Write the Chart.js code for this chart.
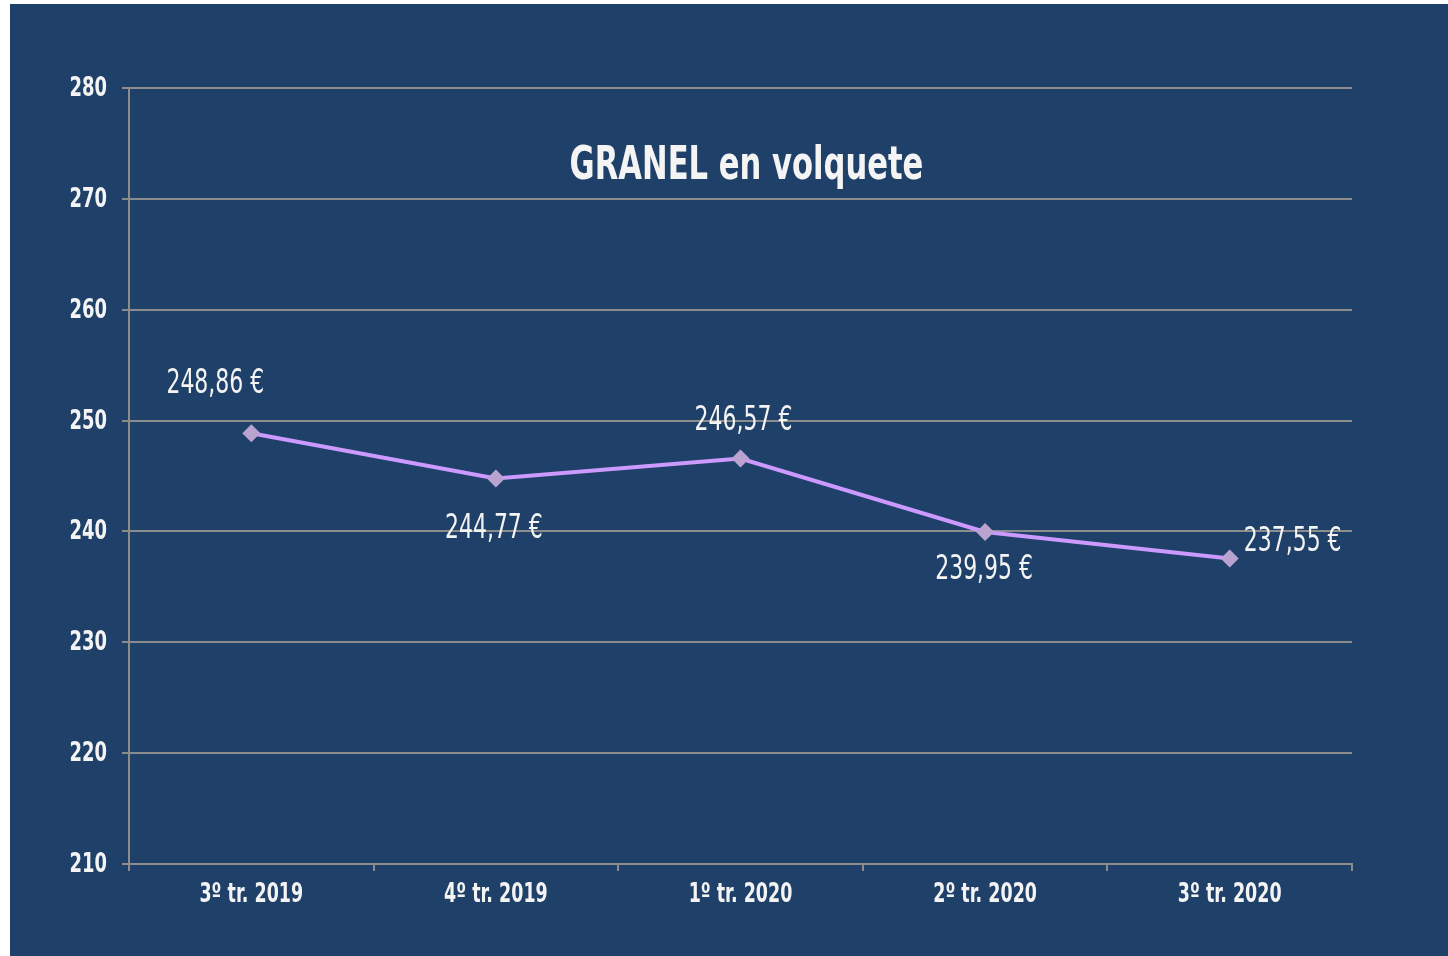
<!DOCTYPE html>
<html>
<head>
<meta charset="utf-8">
<script src="https://cdn.jsdelivr.net/npm/chart.js@4.4.1/dist/chart.umd.min.js"></script>
<style>
  html, body { margin: 0; padding: 0; background: #ffffff; }
  #wrap { position: relative; width: 1448px; height: 956px; }
  canvas { display: block; }
</style>
</head>
<body>
<div id="wrap"><canvas id="c" width="1448" height="956"></canvas></div>
<script>
const categories = ['3º tr. 2019', '4º tr. 2019', '1º tr. 2020', '2º tr. 2020', '3º tr. 2020'];
const prices = [248.86, 244.77, 246.57, 239.95, 237.55];
const priceLabels = ['248,86 €', '244,77 €', '246,57 €', '239,95 €', '237,55 €'];
const yMin = 210, yMax = 280, yStep = 10;
const chartTitle = 'GRANEL en volquete';

// label offsets relative to each point (style only)
const labelOffsets = [[-36, -49], [-2, 51], [3, -37], [-1, 38], [63, -16]];

const FONT = '"DejaVu Sans Condensed", "Liberation Sans Narrow", sans-serif';
const SX = 0.74;
const TEXT = '#f4f4f4';

function drawText(ctx, text, x, y, font, sx, align) {
  ctx.save();
  ctx.translate(x, y);
  ctx.scale(sx, 1);
  ctx.font = font;
  ctx.textAlign = align;
  ctx.textBaseline = 'middle';
  ctx.fillStyle = TEXT;
  ctx.fillText(text, 0, 0);
  ctx.restore();
}

const bgPlugin = {
  id: 'bg',
  beforeDraw(chart) {
    const ctx = chart.ctx;
    ctx.save();
    ctx.fillStyle = '#ffffff';
    ctx.fillRect(0, 0, chart.width, chart.height);
    ctx.fillStyle = '#1f4068';
    ctx.fillRect(10, 4, chart.width - 10, chart.height - 4);
    ctx.restore();
  }
};

const labelPlugin = {
  id: 'labels',
  afterDraw(chart) {
    const ctx = chart.ctx;
    const meta = chart.getDatasetMeta(0);
    meta.data.forEach((pt, i) => {
      const o = labelOffsets[i];
      drawText(ctx, priceLabels[i], pt.x + o[0], pt.y + o[1], '33px ' + FONT, SX, 'center');
    });
    const a = chart.chartArea;
    drawText(ctx, chartTitle, (a.left + a.right) / 2 + 6, a.top + 79, 'bold 46px ' + FONT, SX, 'center');

    // axis tick labels, positioned by the library's scales
    const ys = chart.scales.y;
    ys.ticks.forEach((t, i) => {
      drawText(ctx, String(t.value), a.left - 22, ys.getPixelForTick(i) + 1, 'bold 27px ' + FONT, SX, 'right');
    });
    const xs = chart.scales.x;
    xs.ticks.forEach((t, i) => {
      drawText(ctx, categories[i], xs.getPixelForTick(i), a.bottom + 31, 'bold 27px ' + FONT, 0.72, 'center');
    });
  }
};

const gridColor = '#8c8c8c';

new Chart(document.getElementById('c'), {
  type: 'line',
  data: {
    labels: categories,
    datasets: [{
      data: prices,
      borderColor: '#cc99ff',
      borderWidth: 4,
      pointStyle: 'rectRot',
      pointRadius: 9,
      pointHoverRadius: 9,
      pointBackgroundColor: '#baa3d0',
      pointBorderWidth: 0,
      tension: 0,
      clip: false
    }]
  },
  options: {
    responsive: false,
    animation: false,
    devicePixelRatio: 1,
    layout: { padding: { left: 10, right: 96, top: 88, bottom: 0 } },
    plugins: { legend: { display: false }, tooltip: { enabled: false }, title: { display: false } },
    scales: {
      x: {
        type: 'category',
        offset: true,
        grid: { offset: true, drawOnChartArea: false, drawTicks: true, tickLength: 7, color: gridColor, lineWidth: 2 },
        border: { display: true, color: gridColor, width: 2 },
        ticks: { display: false },
        afterFit(s) { s.height = 92; }
      },
      y: {
        min: yMin, max: yMax,
        grid: { color: gridColor, lineWidth: 2, drawTicks: true, tickLength: 7 },
        border: { display: true, color: gridColor, width: 2 },
        ticks: { display: false, stepSize: yStep },
        afterFit(s) { s.width = 119; }
      }
    }
  },
  plugins: [bgPlugin, labelPlugin]
});
</script>
</body>
</html>
